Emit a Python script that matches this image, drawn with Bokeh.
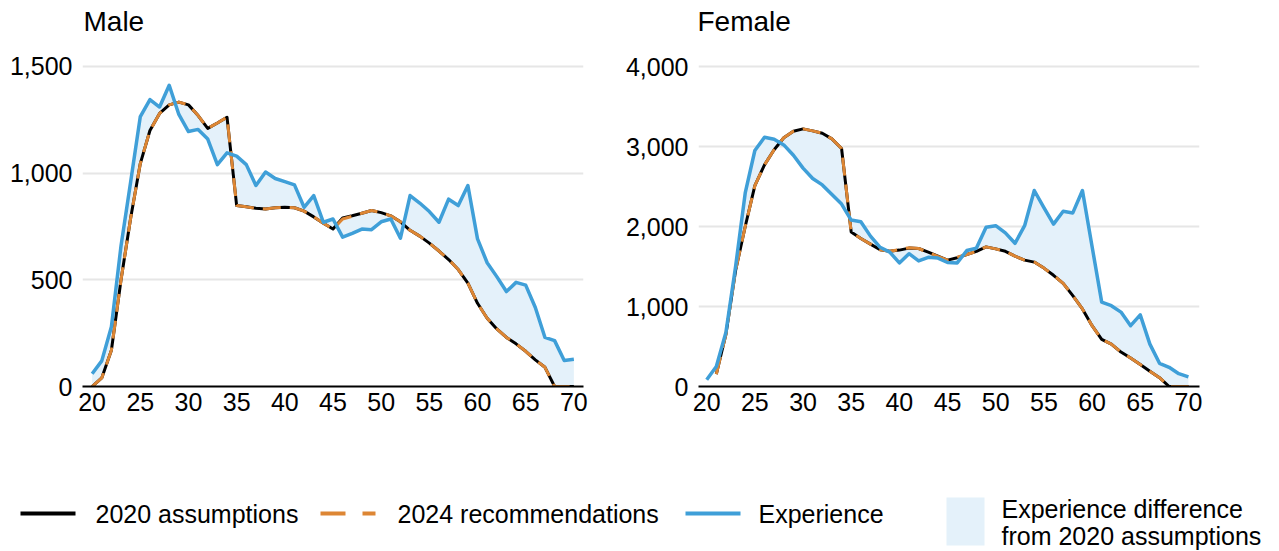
from bokeh.plotting import figure
from bokeh.layouts import row, column
from bokeh.models import Range1d, NumeralTickFormatter, FixedTicker
from bokeh.embed import file_html
from bokeh.resources import INLINE
from bokeh.core.properties import value

nan = float("nan")

ages = list(range(20, 71))
x_ticks = list(range(20, 71, 5))
male_y_ticks = [0, 500, 1000, 1500]
female_y_ticks = [0, 1000, 2000, 3000, 4000]
panel_titles = ["Male", "Female"]
legend_labels = ["2020 assumptions", "2024 recommendations", "Experience",
                 "Experience difference", "from 2020 assumptions"]

male_assumptions_2020 = [
    0, 40, 170, 500, 790, 1045, 1200, 1280, 1320, 1333,
    1320, 1270, 1210, 1235, 1262, 848, 842, 835, 832, 838,
    840, 838, 822, 795, 765, 738, 790, 800, 812, 825,
    815, 800, 772, 732, 705, 672, 635, 595, 548, 485,
    390, 320, 270, 230, 200, 165, 125, 90, 0, 0, 0]
male_recommendations_2024 = [
    0, 40, 170, 500, 790, 1045, 1200, 1280, 1320, 1333,
    1320, 1270, 1210, 1235, 1262, 848, 842, 835, 832, 838,
    840, 838, 822, 795, 765, 738, 785, 798, 812, 825,
    815, 800, 772, 732, 705, 672, 635, 595, 548, 485,
    390, 320, 270, 230, 200, 165, 125, 90, 0, 0, 0]
male_experience = [
    60, 120, 280, 660, 960, 1265, 1345, 1310, 1412, 1275,
    1195, 1205, 1160, 1040, 1095, 1080, 1040, 942, 1005, 975,
    960, 945, 840, 895, 770, 785, 700, 718, 738, 735,
    772, 785, 695, 895, 860, 820, 770, 878, 848, 942,
    692, 580, 515, 445, 488, 475, 370, 230, 215, 122, 128]

female_assumptions_2020 = [
    nan, 155, 655, 1450, 2000, 2510, 2770, 2960, 3110, 3190,
    3220, 3195, 3165, 3095, 2975, 1930, 1850, 1780, 1710, 1690,
    1705, 1730, 1725, 1680, 1630, 1580, 1610, 1650, 1690, 1745,
    1720, 1690, 1630, 1580, 1555, 1480, 1390, 1290, 1135, 970,
    760, 590, 530, 430, 355, 275, 190, 110, 0, 0, 0]
female_recommendations_2024 = [
    nan, 155, 655, 1450, 2000, 2510, 2770, 2960, 3110, 3190,
    3220, 3195, 3165, 3095, 2975, 1930, 1850, 1780, 1710, 1690,
    1710, 1735, 1725, 1675, 1625, 1580, 1615, 1650, 1690, 1745,
    1720, 1690, 1630, 1580, 1555, 1480, 1390, 1290, 1135, 970,
    760, 590, 530, 430, 355, 275, 190, 110, 0, 0, 0]
female_experience = [
    85, 250, 680, 1500, 2420, 2950, 3115, 3090, 3020, 2890,
    2730, 2600, 2520, 2400, 2280, 2080, 2060, 1880, 1740, 1680,
    1545, 1660, 1570, 1615, 1605, 1550, 1545, 1700, 1730, 1990,
    2010, 1920, 1790, 2010, 2450, 2235, 2030, 2190, 2170, 2450,
    1750, 1055, 1010, 930, 760, 895, 530, 290, 240, 160, 120]

FONT = "Liberation Sans"
BLACK = "#000000"
ORANGE = "#dd8634"
BLUE = "#3f9fd8"
FILL = "#e4f1fa"
GRID = "#e6e6e6"
PAGE_W = 1270


def make_panel(x_start, x_end, y_end, y_ticks, exp, ass, rec, fill_from,
               left_border, right_border):
    p = figure(frame_width=501, frame_height=326,
               x_range=Range1d(x_start, x_end), y_range=Range1d(0, y_end),
               output_backend="svg", toolbar_location=None,
               min_border_left=left_border, min_border_right=right_border,
               min_border_top=15, min_border_bottom=40)
    p.outline_line_color = None
    p.background_fill_color = "white"

    p.varea(x=ages[fill_from:], y1=exp[fill_from:], y2=ass[fill_from:],
            fill_color=FILL, fill_alpha=1.0)
    p.line(ages, ass, line_color=BLACK, line_width=3, line_join="round")
    p.line(ages, rec, line_color=ORANGE, line_width=3, line_dash="18 9")
    p.line(ages, exp, line_color=BLUE, line_width=3.5, line_join="round")

    xa = p.xaxis[0]
    xa.ticker = FixedTicker(ticks=x_ticks)
    xa.axis_line_color = BLACK
    xa.axis_line_width = 2
    xa.major_tick_line_color = None
    xa.minor_tick_line_color = None
    xa.major_tick_out = 0
    xa.major_tick_in = 0
    xa.major_label_standoff = 6
    xa.major_label_text_font = FONT
    xa.major_label_text_font_size = "25px"
    xa.major_label_text_color = BLACK

    ya = p.yaxis[0]
    ya.ticker = FixedTicker(ticks=y_ticks)
    ya.formatter = NumeralTickFormatter(format="0,0")
    ya.axis_line_color = None
    ya.major_tick_line_color = None
    ya.minor_tick_line_color = None
    ya.major_tick_out = 0
    ya.major_tick_in = 0
    ya.major_label_standoff = 10
    ya.major_label_text_font = FONT
    ya.major_label_text_font_size = "25px"
    ya.major_label_text_color = BLACK

    p.xgrid.grid_line_color = None
    p.ygrid.ticker = FixedTicker(ticks=y_ticks)
    p.ygrid.grid_line_color = GRID
    p.ygrid.grid_line_width = 2
    return p


def strip(height):
    s = figure(width=PAGE_W, height=height, x_range=Range1d(0, PAGE_W),
               y_range=Range1d(height, 0), output_backend="svg",
               toolbar_location=None, min_border=0,
               x_axis_location=None, y_axis_location=None)
    s.outline_line_color = None
    s.grid.visible = False
    return s


# Title strip (panel titles, layout positions in pixels)
top = strip(45)
top.text(x=[83, 697], y=[21, 21], text=panel_titles, text_baseline="middle",
         text_align="left", text_font=value(FONT), text_font_size="28px",
         text_color=BLACK)

p1 = make_panel(19.0, 71.0, 1528, male_y_ticks,
                male_experience, male_assumptions_2020, male_recommendations_2024, 0, 82, 39)
p2 = make_panel(19.15, 71.15, 4075, female_y_ticks,
                female_experience, female_assumptions_2020, female_recommendations_2024, 1, 74, 40)

# Legend strip (layout positions in pixels)
leg = strip(125)
ly = 87
leg.line(x=[20, 75], y=[ly, ly], line_color=BLACK, line_width=4)
leg.line(x=[320, 375], y=[ly, ly], line_color=ORANGE, line_width=4, line_dash="25 17")
leg.line(x=[685, 740], y=[ly, ly], line_color=BLUE, line_width=4)
leg.quad(left=[946], right=[984], top=[71], bottom=[119], fill_color=FILL, line_color=None)
leg.text(x=[95, 397, 758, 1001, 1001], y=[ly, ly, ly, 82, 109], text=legend_labels,
         text_baseline="middle", text_align="left", text_font=value(FONT),
         text_font_size="25px", text_color=BLACK)

layout = column(top, row(p1, p2), leg)
open("out.html", "w").write(file_html(layout, INLINE))
